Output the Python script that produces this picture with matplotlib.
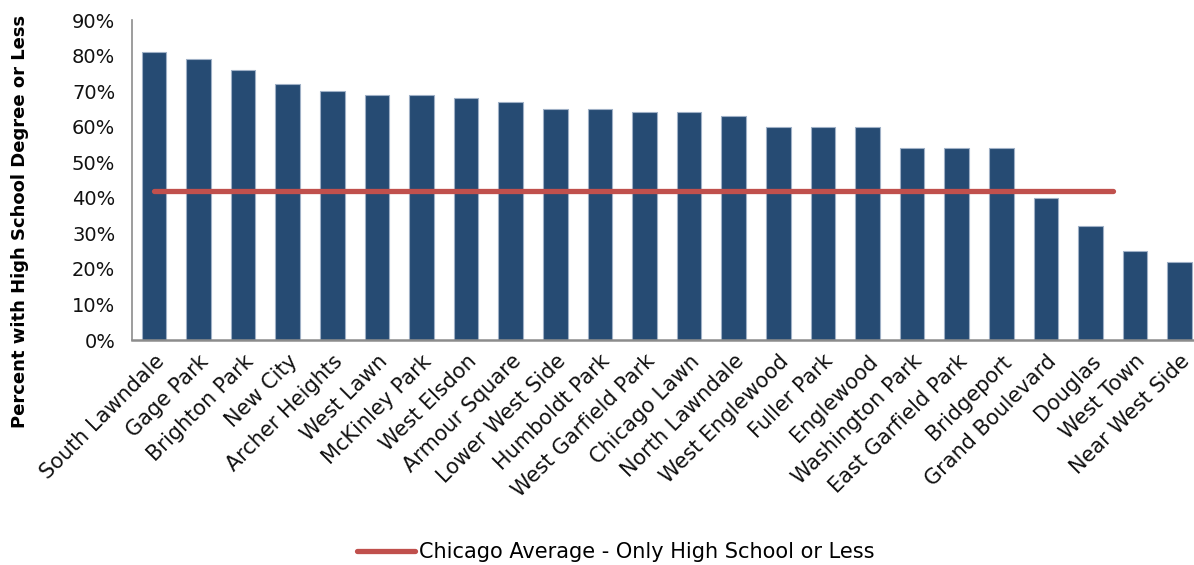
import matplotlib
matplotlib.use("Agg")
import matplotlib.pyplot as plt
from matplotlib.ticker import PercentFormatter
from matplotlib.lines import Line2D

categories = ["South Lawndale", "Gage Park", "Brighton Park", "New City", "Archer Heights",
              "West Lawn", "McKinley Park", "West Elsdon", "Armour Square", "Lower West Side",
              "Humboldt Park", "West Garfield Park", "Chicago Lawn", "North Lawndale",
              "West Englewood", "Fuller Park", "Englewood", "Washington Park",
              "East Garfield Park", "Bridgeport", "Grand Boulevard", "Douglas", "West Town",
              "Near West Side"]
values = [81, 79, 76, 72, 70, 69, 69, 68, 67, 65, 65, 64, 64, 63, 60, 60, 60, 54, 54, 54,
          40, 32, 25, 22]
chicago_avg = 42
avg_label = "Chicago Average - Only High School or Less"
y_label = "Percent with High School Degree or Less"

plt.rcParams['font.family'] = ['DejaVu Sans']

fig = plt.figure(figsize=(11.94, 5.65), dpi=100)
ax = fig.add_axes([132/1194, 1 - 340/565, 1 - 132/1194, 320/565])

x = list(range(len(categories)))
ax.bar(x, values, width=0.55, color="#264B73", edgecolor="#9FB0C6", linewidth=0.8, zorder=2)
ax.plot([0, 21.5], [chicago_avg, chicago_avg], color="#C0504D", linewidth=3.8,
        solid_capstyle="round", zorder=3)

ax.set_xlim(-0.49, 23.32)
ax.set_ylim(0, 90)
ax.set_yticks(range(0, 91, 10))
ax.yaxis.set_major_formatter(PercentFormatter(decimals=0))
ax.set_xticks(x)
ax.set_xticklabels(categories, rotation=45, ha="right", rotation_mode="anchor",
                   fontsize=15, color="#111111")
ax.tick_params(axis="y", length=0, labelsize=14, labelcolor="#111111", pad=12)
ax.tick_params(axis="x", length=0, pad=8)

for s in ["top", "right"]:
    ax.spines[s].set_visible(False)
ax.spines["left"].set_color("#8C8C8C")
ax.spines["left"].set_linewidth(1.2)
ax.spines["bottom"].set_color("#8C8C8C")
ax.spines["bottom"].set_linewidth(1.8)

fig.text(20/1194, 1 - 221/565, y_label, rotation=90, ha="center", va="center",
         fontsize=13, fontweight="bold", color="#000000")

handle = Line2D([0], [0], color="#C0504D", linewidth=3.8, solid_capstyle="round")
fig.legend([handle], [avg_label], loc="center", bbox_to_anchor=(616/1194, 1 - 552/565),
           frameon=False, fontsize=15, handlelength=2.8, handletextpad=0.2)

fig.savefig("out.png", dpi=100)
